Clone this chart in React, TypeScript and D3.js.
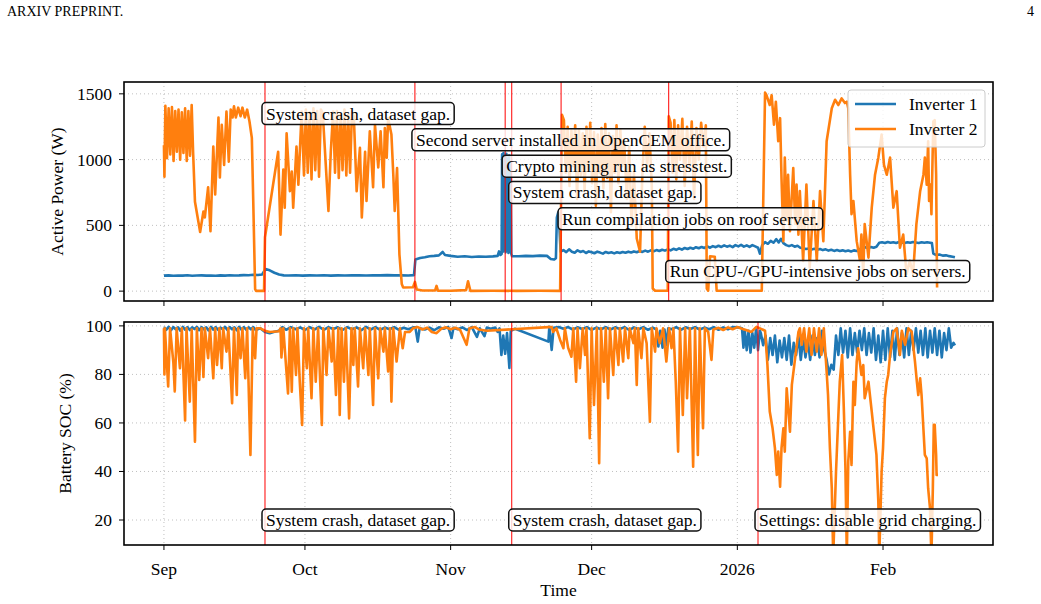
import React, { useEffect, useRef } from "react";
import * as d3 from "d3";

// time axis: values are day offsets from 1 Sep 2025
const START = new Date(2025, 8, 1);
const DOMAIN_DAYS = [-8.5, 176.4];

const monthTicks = [
  new Date(2025, 8, 1),
  new Date(2025, 9, 1),
  new Date(2025, 10, 1),
  new Date(2025, 11, 1),
  new Date(2026, 0, 1),
  new Date(2026, 1, 1),
];
const monthLabels = ["Sep", "Oct", "Nov", "Dec", "2026", "Feb"];

const powerTicks = [0, 500, 1000, 1500];
const socTicks = [20, 40, 60, 80, 100];

// Inverter 1 active power [day, W]
const inv1Power = [
  [0, 118], [1, 120], [2, 117], [3, 119], [4, 118], [5, 121], [6, 117], [7, 119], [8, 120], [9, 118],
  [10, 119], [11, 117], [12, 120], [13, 118], [14, 121], [15, 119], [16, 120], [17, 122], [18, 121],
  [19, 124], [20, 123], [20.9, 127], [21.6, 168], [22.5, 158], [23.5, 140], [24.5, 126], [25.5, 120],
  [26.5, 119], [28, 121], [29.5, 118], [31, 120], [32.5, 119], [34, 121], [35.5, 118], [37, 120],
  [38.5, 119], [40, 121], [41.5, 120], [43, 119], [44.5, 121], [46, 120], [47.5, 122], [49, 120],
  [50.5, 121], [52, 119], [53.2, 122], [53.5, 240], [54.5, 252], [55.5, 258], [56.5, 265], [57.5, 268],
  [58.5, 272], [59.3, 298], [59.8, 275], [61, 268], [62.5, 262], [64, 265], [65.5, 260], [67, 263],
  [68.5, 261], [70, 264], [71, 268], [71.3, 302], [71.6, 275], [71.85, 282],
  [71.95, 1040], [72.1, 300], [72.25, 1050], [72.4, 310], [72.55, 1020], [72.7, 295], [72.85, 1045],
  [73.0, 305], [73.15, 1000], [73.3, 290], [73.45, 1030], [73.6, 300], [73.75, 980], [73.9, 285],
  [74.05, 265], [75.5, 265], [77, 268], [78.5, 266], [80, 270], [81.5, 268], [82.3, 245], [83, 240],
  [83.4, 250], [83.6, 560], [83.9, 600], [84.1, 520], [84.4, 300],
  [85.0, 312], [85.6, 296], [86.2, 318], [86.8, 300], [87.4, 292], [88.0, 310], [88.6, 298], [89.2, 305],
  [89.8, 290], [90.4, 302], [91.0, 296], [91.6, 288], [92.2, 300], [92.8, 293], [93.4, 285], [94.0, 298],
  [94.6, 290], [95.2, 295], [95.8, 287], [96.4, 296], [97.0, 290], [97.6, 298], [98.2, 292], [98.8, 300],
  [99.4, 294], [100.0, 302], [100.6, 296], [101.2, 305], [101.8, 298], [102.4, 308], [103.0, 300],
  [103.6, 310], [104.2, 303], [104.8, 312], [105.4, 305], [106.0, 315], [106.6, 308], [107.2, 318],
  [107.8, 310], [108.4, 322], [109.0, 314], [109.6, 325], [110.2, 316], [110.8, 328], [111.4, 320],
  [112.0, 330], [112.6, 322], [113.2, 334], [113.8, 326], [114.4, 336], [115.0, 328], [115.6, 340],
  [116.2, 330], [116.8, 342], [117.4, 334], [118.0, 345], [118.6, 336], [119.2, 348], [119.8, 338],
  [120.4, 346], [121.0, 335], [121.6, 350], [122.2, 340], [122.8, 352], [123.4, 338], [124.0, 348],
  [124.6, 336], [125.2, 350], [125.8, 340], [126.4, 330], [126.8, 285], [127.3, 350], [127.9, 372],
  [128.5, 360], [129.1, 382], [129.7, 368], [130.3, 395], [130.8, 370], [131.3, 398], [131.8, 365],
  [132.4, 350], [133.0, 342], [133.6, 350], [134.2, 338], [134.8, 345], [135.4, 330], [136.0, 326],
  [136.6, 320], [137.2, 324], [137.8, 316], [138.4, 322], [139.0, 314], [139.6, 320], [140.2, 312],
  [140.8, 318], [141.4, 308], [142.0, 314], [142.6, 306], [143.2, 312], [143.8, 305], [144.4, 310],
  [145.0, 303], [145.6, 309], [146.2, 302], [146.8, 310], [147.4, 305], [148.0, 318], [148.6, 330],
  [149.2, 334], [149.8, 328], [150.4, 336], [151.0, 330], [151.6, 338], [152.2, 368], [152.8, 372],
  [153.4, 366], [154.0, 374], [154.6, 368], [155.2, 372], [155.8, 366], [156.4, 374], [157.0, 370],
  [157.6, 366], [158.2, 372], [158.8, 368], [159.4, 374], [160.0, 370], [160.6, 366], [161.2, 372],
  [161.8, 368], [162.4, 372], [163.0, 368], [163.4, 365], [163.7, 285], [164.3, 275], [165, 278],
  [165.7, 270], [166.4, 272], [167.1, 266], [167.8, 262], [168.3, 258],
];

// Inverter 2 active power [day, W]
const inv2Power = [
  [0, 1110], [0.1, 870], [0.3, 1410], [0.65, 1010], [1.0, 1390], [1.35, 1040], [1.7, 1400], [2.05, 990],
  [2.4, 1370], [2.75, 1060], [3.1, 1380], [3.45, 1000], [3.8, 1360], [4.15, 1050], [4.5, 1390],
  [4.85, 990], [5.2, 1370], [5.55, 1030], [5.9, 1415], [6.2, 1060], [6.6, 680], [7.7, 450], [8.4, 605],
  [8.7, 560], [9.4, 790], [9.9, 455], [10.5, 1100], [10.9, 735], [11.6, 1320], [11.9, 865], [12.3, 1265],
  [12.8, 960], [13.3, 1365], [13.8, 985], [14.2, 1380], [14.6, 1320], [14.9, 1405], [15.3, 1320],
  [15.8, 1395], [16.3, 1330], [16.7, 1395], [17.2, 1320], [17.7, 1380], [18.2, 1290], [18.7, 1165],
  [19.0, 685], [19.4, 15], [19.6, 2], [21.3, 2], [21.5, 410], [24.3, 1060], [24.8, 430], [25.4, 925],
  [25.7, 635], [26.1, 1200], [26.8, 760], [27.2, 910], [27.5, 635], [28.2, 1100], [28.6, 810],
  [29.3, 1365], [29.8, 880], [30.2, 1380], [30.6, 900], [31.0, 1360], [31.4, 850], [31.8, 1390],
  [32.2, 920], [32.6, 1370], [33.0, 870], [33.4, 1380], [33.8, 1350], [35.0, 610], [35.5, 1060],
  [36.0, 1365], [36.4, 900], [36.8, 1370], [37.2, 860], [37.6, 1350], [38.0, 920], [38.4, 1380],
  [38.8, 880], [39.2, 1340], [39.6, 900], [40.0, 1360], [40.4, 1330], [41.0, 760], [41.7, 1090],
  [42.1, 560], [42.8, 1060], [43.1, 685], [43.8, 1215], [44.5, 790], [44.9, 1265], [45.6, 940],
  [46.1, 1215], [46.7, 790], [47.0, 1240], [47.4, 1015], [47.7, 1315], [48.4, 1190], [48.8, 885],
  [49.1, 610], [49.6, 935], [50.1, 280], [50.6, 55], [50.9, 28], [53.0, 30], [53.4, 70], [53.8, 12],
  [55, 5], [57.7, 5], [58.0, 40], [58.3, 4], [61, 3], [64.3, 8], [64.7, 75], [65.2, 2], [70, 3], [75, 2],
  [80, 3], [84.3, 2], [84.7, 1340], [85.1, 1300], [85.5, 900], [85.9, 1250], [86.3, 800], [86.7, 1220],
  [87.1, 950], [87.5, 1260], [87.9, 700], [88.3, 1230], [88.7, 880], [89.1, 1200], [89.5, 760],
  [89.9, 1250], [90.3, 920], [90.7, 1280], [91.1, 820], [91.5, 1210], [91.9, 650], [92.3, 1190],
  [92.7, 900], [93.1, 1240], [93.5, 780], [93.9, 1270], [94.3, 860], [94.7, 1200], [95.1, 600],
  [95.5, 1180], [95.9, 900], [96.3, 1260], [96.7, 820], [97.1, 1230], [97.5, 950], [97.9, 1150],
  [98.5, 700], [99.0, 1100], [99.5, 500], [100.0, 900], [100.6, 400], [101.3, 300], [101.8, 900],
  [102.3, 1250], [102.8, 950], [103.3, 1200], [103.8, 800], [104.0, 20], [104.5, 3], [107.2, 3],
  [107.4, 1330], [107.8, 1280], [108.2, 900], [108.6, 1300], [109.0, 850], [109.4, 1260], [109.8, 1000],
  [110.3, 1310], [110.8, 800], [111.3, 1250], [111.8, 950], [112.3, 1290], [112.8, 700], [113.3, 1240],
  [113.8, 1000], [114.3, 1280], [114.8, 1100], [115.3, 1260], [115.5, 20], [115.8, 3], [116.2, 265],
  [117.2, 262], [117.6, 3], [127.2, 3], [127.9, 1510], [128.2, 1490], [128.9, 1415], [129.3, 1490],
  [129.8, 1265], [130.2, 1440], [130.7, 1140], [131.1, 1315], [131.4, 860], [131.8, 380], [132.1, 1015],
  [132.5, 535], [132.8, 885], [133.2, 455], [133.9, 935], [134.3, 510], [134.6, 810], [135.0, 430],
  [135.3, 760], [136.0, 230], [136.7, 810], [137.4, 180], [138.2, 685], [138.9, 230], [139.6, 760],
  [140.3, 380], [141.0, 1140], [142.1, 1390], [142.8, 1455], [143.5, 1415], [144.2, 1465], [144.9, 1430],
  [145.3, 1440], [145.6, 1390], [146.0, 885], [146.3, 585], [146.7, 685], [147.4, 380], [148.1, 230],
  [148.4, 430], [148.8, 130], [149.1, 510], [149.9, 255], [150.6, 635], [151.3, 885], [152.0, 1015],
  [152.7, 1190], [153.2, 960], [153.8, 885], [154.5, 1015], [155.2, 635], [155.9, 760], [156.6, 330],
  [157.3, 430], [158.0, 130], [158.7, 230], [159.4, 130], [160.1, 510], [160.9, 760], [161.6, 885],
  [161.9, 1015], [162.3, 810], [162.6, 1140], [162.8, 685], [163.1, 810], [163.3, 585], [163.7, 1290],
  [164.0, 1300], [164.3, 885], [164.5, 28],
];

// Inverter 1 battery state of charge [day, %]
const inv1Soc = [
  [0, 99.5], [0.5, 98.4], [1, 99.6], [1.5, 98.2], [2, 99.5], [2.5, 98.6], [3, 99.4], [3.5, 98], [4, 99.6],
  [4.5, 98.5], [5, 99.5], [5.5, 98.3], [6, 99.4], [6.5, 98.7], [7, 99.6], [7.5, 98.2], [8, 99.5],
  [8.5, 98.6], [9, 99.4], [9.5, 98.1], [10, 99.6], [10.5, 98.5], [11, 99.5], [11.5, 98.4], [12, 99.3],
  [12.5, 98.7], [13, 99.6], [13.5, 98.3], [14, 99.5], [14.5, 98.6], [15, 99.4], [15.5, 98.2], [16, 99.6],
  [16.5, 98.5], [17, 99.5], [17.5, 98.4], [18, 99.4], [18.5, 98.6], [19, 99.5], [19.5, 98.3], [20.5, 99],
  [21.5, 97.5], [22.5, 97], [23.5, 97.6], [24.5, 98], [25.2, 99.5], [26, 98.4], [27, 99.5], [28, 98.6],
  [29, 99.4], [30, 98.3], [31, 99.5], [32, 98.5], [33, 99.6], [34, 98.4], [35, 99.5], [36, 98.7],
  [37, 99.4], [38, 98.3], [39, 99.5], [40, 98.6], [41, 99.4], [42, 98.2], [43, 99.6], [44, 98.5],
  [45, 99.5], [46, 98.4], [47, 99.3], [48, 98.6], [49, 99.5], [50, 98.4], [51, 99.2], [52, 98.6],
  [53, 99.4], [53.5, 99.4], [54, 93.5], [54.4, 99], [55.5, 98.5], [56.5, 99.3], [57.5, 98.2], [58.5, 99.4],
  [59.5, 98.8], [60.5, 99.5], [61.2, 95], [61.6, 99.2], [62.5, 98.6], [63.5, 99.4], [64.5, 98.3],
  [65.5, 99.5], [66.6, 95.5], [67.2, 99], [68.2, 95.8], [68.7, 99.3], [69.5, 98.8], [70.5, 99.3],
  [71.0, 97.5], [71.4, 99], [71.8, 88], [72.2, 96], [72.6, 88.5], [73.0, 97], [73.5, 82.7], [73.8, 98],
  [74.7, 98.8], [81.8, 93.5], [82.0, 99.6], [82.5, 90.1], [82.9, 99.2], [84, 99.5], [85, 98.8], [86, 99.5],
  [87, 98.5], [88, 99.4], [89, 98.7], [90, 99.5], [91, 98.4], [92, 99.3], [93, 98.6], [94, 99.5],
  [95, 98.5], [96, 99.4], [97, 98.7], [98, 99.5], [99, 98.3], [100, 99.4], [101, 98.6], [102, 99.5],
  [103, 98.4], [104, 99.3], [104.8, 98.5], [105.2, 91.5], [105.6, 98], [106.1, 91], [106.5, 98.5],
  [106.9, 92], [107.3, 99], [108, 98.6], [109, 99.5], [110, 98.4], [111, 99.4], [112, 98.7], [113, 99.5],
  [114, 98.5], [115, 99.3], [116, 98.6], [117, 99.5], [118, 98.4], [119, 99.4], [120, 98.6], [121, 99.5],
  [122, 99.4], [123, 99], [123.3, 91], [123.6, 98], [124, 90], [124.4, 98], [124.8, 89], [125.2, 97],
  [125.6, 91], [126, 99], [126.4, 90], [126.8, 98], [127, 97], [127.5, 92], [128, 96], [128.5, 86],
  [129, 95], [129.5, 88], [130, 96], [130.5, 85], [131, 94], [131.5, 87], [132, 95], [132.5, 86], [133, 96],
  [133.5, 84], [134, 93], [134.5, 88], [135, 96], [135.5, 86], [136, 95], [136.5, 87], [137, 94],
  [137.5, 86], [138, 96], [138.5, 88], [139, 95], [139.5, 87], [140, 98], [140.5, 90], [141, 86],
  [141.5, 80], [142, 84], [142.5, 82], [143, 96], [143.5, 88], [144, 99], [144.5, 89], [145, 98],
  [145.5, 87], [146, 99], [146.5, 88], [147, 97], [147.5, 89], [148, 98], [148.5, 90], [149, 99],
  [149.5, 88], [150, 97], [150.5, 89], [151, 99], [151.5, 86], [152, 96], [152.5, 85], [153, 98],
  [153.5, 86], [154, 99], [154.5, 87], [155, 98], [155.5, 86], [156, 99], [156.5, 88], [157, 97],
  [157.5, 87], [158, 99], [158.5, 88], [159, 98], [159.5, 90], [160, 99], [160.5, 89], [161, 98],
  [161.5, 88], [162, 99], [162.5, 87], [163, 98], [163.5, 89], [164, 99], [164.5, 88], [165, 98],
  [165.5, 87], [166, 97], [166.5, 90], [167, 99], [167.5, 91], [168, 93], [168.3, 92],
];

// Inverter 2 battery state of charge [day, %]
const inv2Soc = [
  [0, 99], [0.1, 80], [0.2, 99], [0.9, 75], [1.3, 99], [2.0, 85], [2.3, 73], [2.7, 99], [3.4, 82.6],
  [3.8, 99], [4.5, 61], [4.8, 99], [5.5, 68.8], [5.9, 98.5], [6.6, 52.3], [7.0, 99], [7.5, 77.7], [8.0, 99],
  [8.4, 79], [8.7, 99], [9.4, 86.7], [9.8, 99], [10.5, 78.4], [10.9, 99], [11.3, 83.9], [11.8, 99],
  [12.3, 82.6], [12.6, 99], [13.3, 89.4], [13.7, 99], [14.5, 68.1], [14.9, 99], [15.5, 71.5], [15.8, 99],
  [16.3, 86.7], [16.7, 99], [17.3, 78.4], [17.7, 99], [18.4, 46.8], [18.9, 99], [19.4, 86.7], [19.7, 99],
  [20.5, 99], [21.5, 98], [22.5, 97.5], [24.5, 97.8], [24.8, 99], [25.0, 87], [25.4, 99], [26.4, 72.2],
  [26.8, 99], [27.2, 72.9], [27.5, 99], [28.1, 79.8], [28.4, 99], [28.9, 77], [29.4, 59.2], [29.8, 99],
  [30.4, 82.6], [30.7, 99], [31.4, 70.2], [31.8, 99], [32.3, 77], [32.8, 99], [33.6, 59.2], [33.9, 99],
  [34.6, 79.8], [35.0, 99], [35.7, 85.3], [36.0, 99], [36.6, 71.5], [37.1, 99], [37.4, 63.3], [37.8, 99],
  [38.3, 77], [38.7, 99], [39.4, 61.9], [39.9, 99], [40.3, 83.9], [40.6, 99], [41.3, 75], [41.7, 99],
  [42.4, 82.6], [42.8, 99], [43.5, 79.8], [43.8, 99], [44.5, 67.4], [44.9, 99], [45.6, 78.4], [46.0, 99],
  [46.7, 89.4], [47.0, 99], [47.7, 81.2], [48.1, 99], [48.4, 68.8], [48.8, 99], [49.5, 85.3], [50.2, 99],
  [50.8, 90.8], [51.3, 97.5], [52.3, 97.5], [53.0, 99], [54, 99.5], [55, 98.5], [56, 99.3], [57, 97.5],
  [58, 97], [59, 98.8], [60, 99.4], [61, 98.6], [62, 99.2], [63, 98.4], [64.4, 92.2], [65, 99],
  [66.2, 99.5], [67, 98.5], [68.7, 98], [81.8, 99.5], [82.5, 99.5], [82.8, 97.5], [83.5, 99], [84.3, 94.2],
  [85.0, 90.8], [85.3, 99], [86.0, 91], [86.7, 87.3], [87.1, 99], [87.7, 77], [88.0, 99], [88.5, 82.6],
  [89.1, 99], [89.6, 88], [89.9, 99], [90.6, 53.7], [91.0, 99], [91.5, 67.4], [92.1, 99], [92.6, 43.4],
  [93.0, 99], [93.6, 77], [94.0, 99], [94.5, 70.2], [94.9, 99], [95.6, 79.8], [96.0, 99], [96.7, 83.9],
  [97.0, 99], [97.7, 85.3], [98.1, 99], [98.8, 86.7], [99.1, 99], [99.9, 92.9], [100.2, 99], [100.6, 75.7],
  [100.9, 99], [101.6, 86.7], [102.0, 99], [102.7, 92.9], [103.4, 60.5], [103.8, 99], [104.5, 89.4],
  [104.8, 99], [105.5, 92.9], [106.2, 99], [106.9, 85.3], [107.5, 99], [108.0, 90.8], [108.4, 99],
  [108.9, 77], [109.4, 48.2], [109.8, 99], [110.4, 63.3], [110.9, 99], [111.3, 70.2], [111.9, 99],
  [112.6, 42], [113.0, 99], [113.6, 46.8], [114.0, 99], [114.7, 57.8], [115.1, 99], [115.8, 97.5],
  [116.5, 86], [116.9, 98.5], [118, 99.2], [119, 98.3], [120, 99.4], [121, 98.6], [122, 99.5], [123, 98.8],
  [124, 98.2], [125, 97.5], [126, 99.5], [126.8, 99], [127.9, 98], [128.4, 84], [128.9, 64.7],
  [129.5, 57.8], [130.0, 49.6], [130.4, 38.6], [130.7, 48.2], [131.1, 33.7], [131.4, 49.6], [131.8, 57.8],
  [132.1, 48.2], [132.5, 74.3], [133.2, 56.4], [133.6, 75.7], [134.3, 86.7], [135.0, 97.5], [135.3, 99],
  [135.7, 92.2], [136.2, 99], [136.7, 89.4], [137.3, 99], [137.8, 88], [138.3, 99], [138.9, 89.4],
  [139.4, 99], [139.9, 88], [140.4, 99], [141.0, 81.2], [141.3, 71.5], [141.7, 49.6], [142.1, 33.1],
  [142.4, 5], [143.0, 40], [143.5, 63.3], [143.8, 77], [144.3, 88], [144.7, 63.3], [145.0, 41.3],
  [145.3, 5], [145.6, 44], [146.0, 56.4], [146.3, 42.7], [146.7, 77], [147.0, 67.4], [147.4, 85.3],
  [147.7, 90.8], [148.4, 79.8], [148.8, 83.9], [149.1, 70.2], [149.9, 77], [150.6, 64.7], [150.9, 59.2],
  [151.6, 46.8], [152.0, 27.5], [152.2, 5], [152.7, 40], [153.0, 49.6], [153.4, 70.2], [153.8, 77],
  [154.1, 79.8], [154.5, 88], [155.2, 97.5], [155.9, 99], [156.6, 88], [157.0, 98], [157.7, 92.2],
  [158.4, 99], [159.1, 97.5], [159.8, 85.3], [160.2, 77], [160.5, 71.5], [160.9, 78.4], [161.2, 71.5],
  [161.9, 46.8], [162.3, 45.4], [162.6, 33.1], [163.0, 24.8], [163.3, 5], [163.6, 33], [163.8, 59.2],
  [164.0, 59.2], [164.3, 46.8], [164.4, 38.6], [164.7, 38.6],
];

// event markers: day offset, label, label height in the panel's units
const powerEvents = [
  { day: 21.5, label: "System crash, dataset gap.", at: 1350 },
  { day: 53.4, label: "Second server installed in OpenCEM office.", at: 1150 },
  { day: 72.6, label: "Crypto mining run as stresstest.", at: 950 },
  { day: 74.0, label: "System crash, dataset gap.", at: 750 },
  { day: 84.5, label: "Run compilation jobs on roof server.", at: 550 },
  { day: 107.4, label: "Run CPU-/GPU-intensive jobs on servers.", at: 150 },
];
const socEvents = [
  { day: 21.5, label: "System crash, dataset gap.", at: 20 },
  { day: 74.0, label: "System crash, dataset gap.", at: 20 },
  { day: 126.4, label: "Settings: disable grid charging.", at: 20 },
];

const seriesNames = ["Inverter 1", "Inverter 2"];
const seriesColors = ["#1f77b4", "#ff7f0e"];

const W = 1041;
const H = 604;
const LEFT = 124;
const RIGHT = 993;
const FS = 17.5;
const FONT = "'Liberation Serif', 'Times New Roman', serif";

const toDate = (d) => new Date(START.getTime() + d * 864e5);

const App = () => {
  const svgRef = useRef();

  useEffect(() => {
    const svg = d3.select(svgRef.current);
    svg.selectAll("*").remove();
    svg.attr("width", W).attr("height", H).style("font-family", FONT);

    const x = d3
      .scaleTime()
      .domain(DOMAIN_DAYS.map(toDate))
      .range([LEFT, RIGHT]);

    const panels = [
      {
        top: 82, bottom: 301, domain: [-75, 1590], ticks: powerTicks,
        series: [inv1Power, inv2Power], events: powerEvents,
        label: "Active Power (W)", labelX: 63, showX: false,
      },
      {
        top: 322, bottom: 545, domain: [9.7, 101.6], ticks: socTicks,
        series: [inv1Soc, inv2Soc], events: socEvents,
        label: "Battery SOC (%)", labelX: 71, showX: true,
      },
    ];

    panels.forEach((p, pi) => {
      const y = d3.scaleLinear().domain(p.domain).range([p.bottom, p.top]);
      const clipId = `clip-${pi}`;
      svg
        .append("clipPath")
        .attr("id", clipId)
        .append("rect")
        .attr("x", LEFT)
        .attr("y", p.top)
        .attr("width", RIGHT - LEFT)
        .attr("height", p.bottom - p.top);

      // dotted grid
      const grid = svg.append("g").attr("stroke", "#b0b0b0").attr("stroke-width", 0.8)
        .attr("stroke-dasharray", "1,3");
      monthTicks.forEach((t) => {
        grid.append("line").attr("x1", x(t)).attr("x2", x(t))
          .attr("y1", p.top).attr("y2", p.bottom);
      });
      p.ticks.forEach((t) => {
        grid.append("line").attr("x1", LEFT).attr("x2", RIGHT)
          .attr("y1", y(t)).attr("y2", y(t));
      });

      // data lines
      const line = d3
        .line()
        .x((d) => x(toDate(d[0])))
        .y((d) => y(d[1]));
      const plot = svg.append("g").attr("clip-path", `url(#${clipId})`);
      p.series.forEach((s, si) => {
        plot
          .append("path")
          .datum(s)
          .attr("fill", "none")
          .attr("stroke", seriesColors[si])
          .attr("stroke-width", 2.6)
          .attr("stroke-linejoin", "round")
          .attr("d", line);
      });

      // event markers
      p.events.forEach((e) => {
        plot
          .append("line")
          .attr("x1", x(toDate(e.day)))
          .attr("x2", x(toDate(e.day)))
          .attr("y1", p.top)
          .attr("y2", p.bottom)
          .attr("stroke", "red")
          .attr("stroke-width", 1);
      });

      // axes frame
      svg
        .append("rect")
        .attr("x", LEFT)
        .attr("y", p.top)
        .attr("width", RIGHT - LEFT)
        .attr("height", p.bottom - p.top)
        .attr("fill", "none")
        .attr("stroke", "black")
        .attr("stroke-width", 1.6);

      // y ticks
      const yAxis = svg.append("g");
      p.ticks.forEach((t) => {
        yAxis.append("line").attr("x1", LEFT - 5).attr("x2", LEFT)
          .attr("y1", y(t)).attr("y2", y(t)).attr("stroke", "black").attr("stroke-width", 1);
        yAxis.append("text").attr("x", LEFT - 12).attr("y", y(t) + 6)
          .attr("text-anchor", "end").attr("font-size", FS).text(t);
      });

      // x ticks
      const xAxis = svg.append("g");
      monthTicks.forEach((t, i) => {
        xAxis.append("line").attr("x1", x(t)).attr("x2", x(t))
          .attr("y1", p.bottom).attr("y2", p.bottom + 5).attr("stroke", "black").attr("stroke-width", 1);
        if (p.showX) {
          xAxis.append("text").attr("x", x(t)).attr("y", p.bottom + 30)
            .attr("text-anchor", "middle").attr("font-size", FS).text(monthLabels[i]);
        }
      });

      svg
        .append("text")
        .attr("transform", `translate(${p.labelX},${(p.top + p.bottom) / 2}) rotate(-90)`)
        .attr("text-anchor", "middle")
        .attr("font-size", FS)
        .text(p.label);

      // event labels in rounded boxes
      p.events.forEach((e) => {
        const cy = y(e.at);
        const g = svg.append("g");
        const txt = g
          .append("text")
          .attr("x", x(toDate(e.day)) + 1)
          .attr("y", cy + 6)
          .attr("font-size", FS)
          .text(e.label);
        const bb = txt.node().getBBox();
        g.insert("rect", "text")
          .attr("x", bb.x - 4)
          .attr("y", cy - 11)
          .attr("width", bb.width + 8)
          .attr("height", 22)
          .attr("rx", 4)
          .attr("fill", "white")
          .attr("fill-opacity", 0.8)
          .attr("stroke", "#111")
          .attr("stroke-width", 1.5);
      });

      if (pi === 0) {
        const legend = svg.append("g").attr("transform", "translate(848,90)");
        legend
          .append("rect")
          .attr("width", 137)
          .attr("height", 57)
          .attr("rx", 3)
          .attr("fill", "white")
          .attr("fill-opacity", 0.8)
          .attr("stroke", "#cccccc");
        seriesNames.forEach((name, i) => {
          legend.append("line").attr("x1", 7).attr("x2", 48)
            .attr("y1", 14 + i * 25).attr("y2", 14 + i * 25)
            .attr("stroke", seriesColors[i]).attr("stroke-width", 2.6);
          legend.append("text").attr("x", 61).attr("y", 20 + i * 25)
            .attr("font-size", FS).text(name);
        });
      }
    });

    svg.append("text").attr("x", (LEFT + RIGHT) / 2).attr("y", 596)
      .attr("text-anchor", "middle").attr("font-size", FS).text("Time");

    svg.append("text").attr("x", 7).attr("y", 16).attr("font-size", 14).text("ARXIV PREPRINT.");
    svg.append("text").attr("x", 1034).attr("y", 16).attr("text-anchor", "end")
      .attr("font-size", 14).text("4");
  }, []);

  return (
    <div style={{ position: "absolute", left: 0, top: 0 }}>
      <svg ref={svgRef}></svg>
    </div>
  );
};

export default App;
